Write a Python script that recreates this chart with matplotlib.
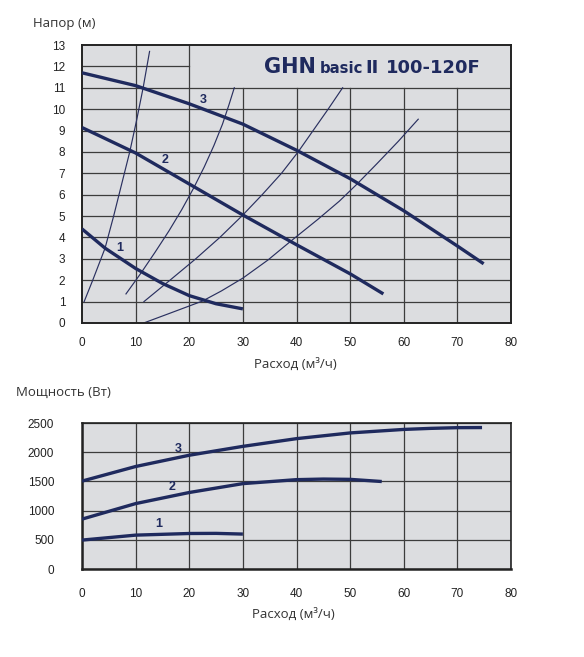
import matplotlib
matplotlib.use("Agg")
import matplotlib.pyplot as plt

# ---- head curves (Q m3/h, H m) ----
q1 = [0, 4.3, 10, 15, 20, 25, 30]
h1 = [4.4, 3.5, 2.55, 1.85, 1.28, 0.9, 0.66]
q2 = [0, 10, 20, 30, 40, 50, 56.2]
h2 = [9.14, 7.95, 6.5, 5.05, 3.66, 2.3, 1.36]
q3 = [0, 10, 20, 30, 40, 50, 60, 70, 74.9]
h3 = [11.7, 11.1, 10.25, 9.3, 8.08, 6.75, 5.25, 3.6, 2.77]

# ---- system curves (thin) ----
sys_a_q = [0.4, 2.0, 4.3, 5.9, 7.4, 8.9, 10.2, 11.4, 12.6]
sys_a_h = [1.0, 2.0, 3.5, 5.0, 6.5, 8.0, 9.5, 11.0, 12.7]
sys_b_q = [8.2, 10.9, 13.6, 16.2, 18.6, 20.8, 22.8, 24.6, 26.2, 27.4, 28.4]
sys_b_h = [1.36, 2.3, 3.3, 4.3, 5.3, 6.3, 7.3, 8.3, 9.3, 10.2, 11.0]
sys_c_q = [11.55, 16.4, 21.2, 25.7, 29.8, 33.6, 37.2, 40.3, 43.1, 45.9, 48.6]
sys_c_h = [1.0, 2.0, 3.0, 4.0, 5.0, 6.0, 7.0, 8.0, 9.0, 10.0, 11.0]
sys_d_q = [11.5, 16.0, 22.5, 26.0, 30.0, 34.7, 38.8, 44.0, 48.0, 51.3, 55.0, 59.0, 62.7]
sys_d_h = [0.0, 0.42, 1.03, 1.5, 2.1, 2.95, 3.8, 4.85, 5.7, 6.5, 7.45, 8.5, 9.53]

# ---- power curves (Q m3/h, P W) ----
pq1 = [0, 10, 20, 25, 30]
pp1 = [495, 580, 608, 610, 598]
pq2 = [0, 10, 20, 30, 40, 45, 50, 55.9]
pp2 = [854, 1120, 1310, 1462, 1530, 1540, 1535, 1498]
pq3 = [0, 10, 20, 30, 40, 50, 60, 65, 70, 74.6]
pp3 = [1505, 1755, 1948, 2100, 2232, 2330, 2390, 2408, 2420, 2422]

x_ticks = [0, 10, 20, 30, 40, 50, 60, 70, 80]
h_ticks = list(range(0, 14))
p_ticks = [0, 500, 1000, 1500, 2000, 2500]

NAVY = "#1f2a5e"
BG = "#dcdde0"
GRID = "#3c3c3c"
TICKFONT = "Liberation Sans"
LABELFONT = "Open Sans"

fig = plt.figure(figsize=(5.84, 6.57), dpi=100)
W, H = 584, 657


def axes_px(left, top, right, bottom):
    return fig.add_axes([left / W, 1 - bottom / H, (right - left) / W, (bottom - top) / H])


# ================= head chart =================
ax1 = axes_px(82, 45, 511, 323)
ax1.set_facecolor(BG)
ax1.set_xlim(0, 80)
ax1.set_ylim(0, 13)

# grid: full rows up to 11, row 12 only left of 20, columns 30+ stop at 11
for h in range(1, 12):
    ax1.plot([0, 80], [h, h], color=GRID, lw=0.9, zorder=1)
ax1.plot([0, 20], [12, 12], color=GRID, lw=0.9, zorder=1)
for q in x_ticks[1:-1]:
    top = 13 if q <= 20 else 11
    ax1.plot([q, q], [0, top], color=GRID, lw=0.9, zorder=1)

for qs, hs in [(sys_a_q, sys_a_h), (sys_b_q, sys_b_h), (sys_c_q, sys_c_h), (sys_d_q, sys_d_h)]:
    ax1.plot(qs, hs, color="#2a3060", lw=0.85, zorder=2)

for qs, hs in [(q1, h1), (q2, h2), (q3, h3)]:
    ax1.plot(qs, hs, color=NAVY, lw=2.4, zorder=3, solid_capstyle="butt")

for txt, (x, y) in zip(["1", "2", "3"], [(7.0, 3.5), (15.5, 7.6), (22.6, 10.45)]):
    ax1.text(x, y, txt, color=NAVY, fontsize=9, fontweight="bold", family=TICKFONT,
             ha="center", va="center", zorder=4)

ax1.set_xticks(x_ticks)
ax1.set_yticks(h_ticks)
ax1.tick_params(length=0, labelsize=8.5, pad=12)
ax1.tick_params(axis="x", pad=10)
for lab in ax1.get_xticklabels() + ax1.get_yticklabels():
    lab.set_family(TICKFONT)
    lab.set_color("#222222")
for s in ax1.spines.values():
    s.set_color("#222222")
    s.set_linewidth(1.4)

# title made of parts with different sizes (x in data units)
title_parts = [("GHN", 33.9, 15), ("basic", 44.4, 10.7), ("II", 52.8, 13), ("100-120F", 56.7, 13)]
for part, x, size in title_parts:
    ax1.text(x, 11.69, part, fontsize=size, fontweight="bold", family="DejaVu Sans",
             color=NAVY, ha="left", va="baseline", zorder=4)

fig.text(33 / W, 1 - 24 / H, "Напор (м)", family=LABELFONT, fontsize=9.5,
         color="#333333", ha="left", va="center")
fig.text(295 / W, 1 - 364 / H, "Расход (м³/ч)", family=LABELFONT, fontsize=9.5,
         color="#333333", ha="center", va="center")

# ================= power chart =================
ax2 = axes_px(82, 423, 511, 569)
ax2.set_facecolor(BG)
ax2.set_xlim(0, 80)
ax2.set_ylim(0, 2500)
ax2.set_xticks(x_ticks)
ax2.set_yticks(p_ticks)
ax2.grid(True, color=GRID, lw=0.9)
ax2.set_axisbelow(True)

for qs, ps in [(pq1, pp1), (pq2, pp2), (pq3, pp3)]:
    ax2.plot(qs, ps, color=NAVY, lw=2.4, zorder=3, solid_capstyle="butt")

for txt, (x, y) in zip(["1", "2", "3"], [(14.3, 763), (16.8, 1407), (17.9, 2050)]):
    ax2.text(x, y, txt, color=NAVY, fontsize=9, fontweight="bold", family=TICKFONT,
             ha="center", va="center", zorder=4)

ax2.tick_params(length=0, labelsize=8.5)
ax2.tick_params(axis="y", pad=20)
ax2.tick_params(axis="x", pad=14)
for lab in ax2.get_xticklabels() + ax2.get_yticklabels():
    lab.set_family(TICKFONT)
    lab.set_color("#222222")
for name, s in ax2.spines.items():
    s.set_color("#222222")
    s.set_linewidth(1.8 if name in ("left", "bottom") else 1.2)

fig.text(16 / W, 1 - 392 / H, "Мощность (Вт)", family=LABELFONT, fontsize=9.5,
         color="#333333", ha="left", va="center")
fig.text(293 / W, 1 - 614 / H, "Расход (м³/ч)", family=LABELFONT, fontsize=9.5,
         color="#333333", ha="center", va="center")

fig.savefig("out.png", dpi=100)
